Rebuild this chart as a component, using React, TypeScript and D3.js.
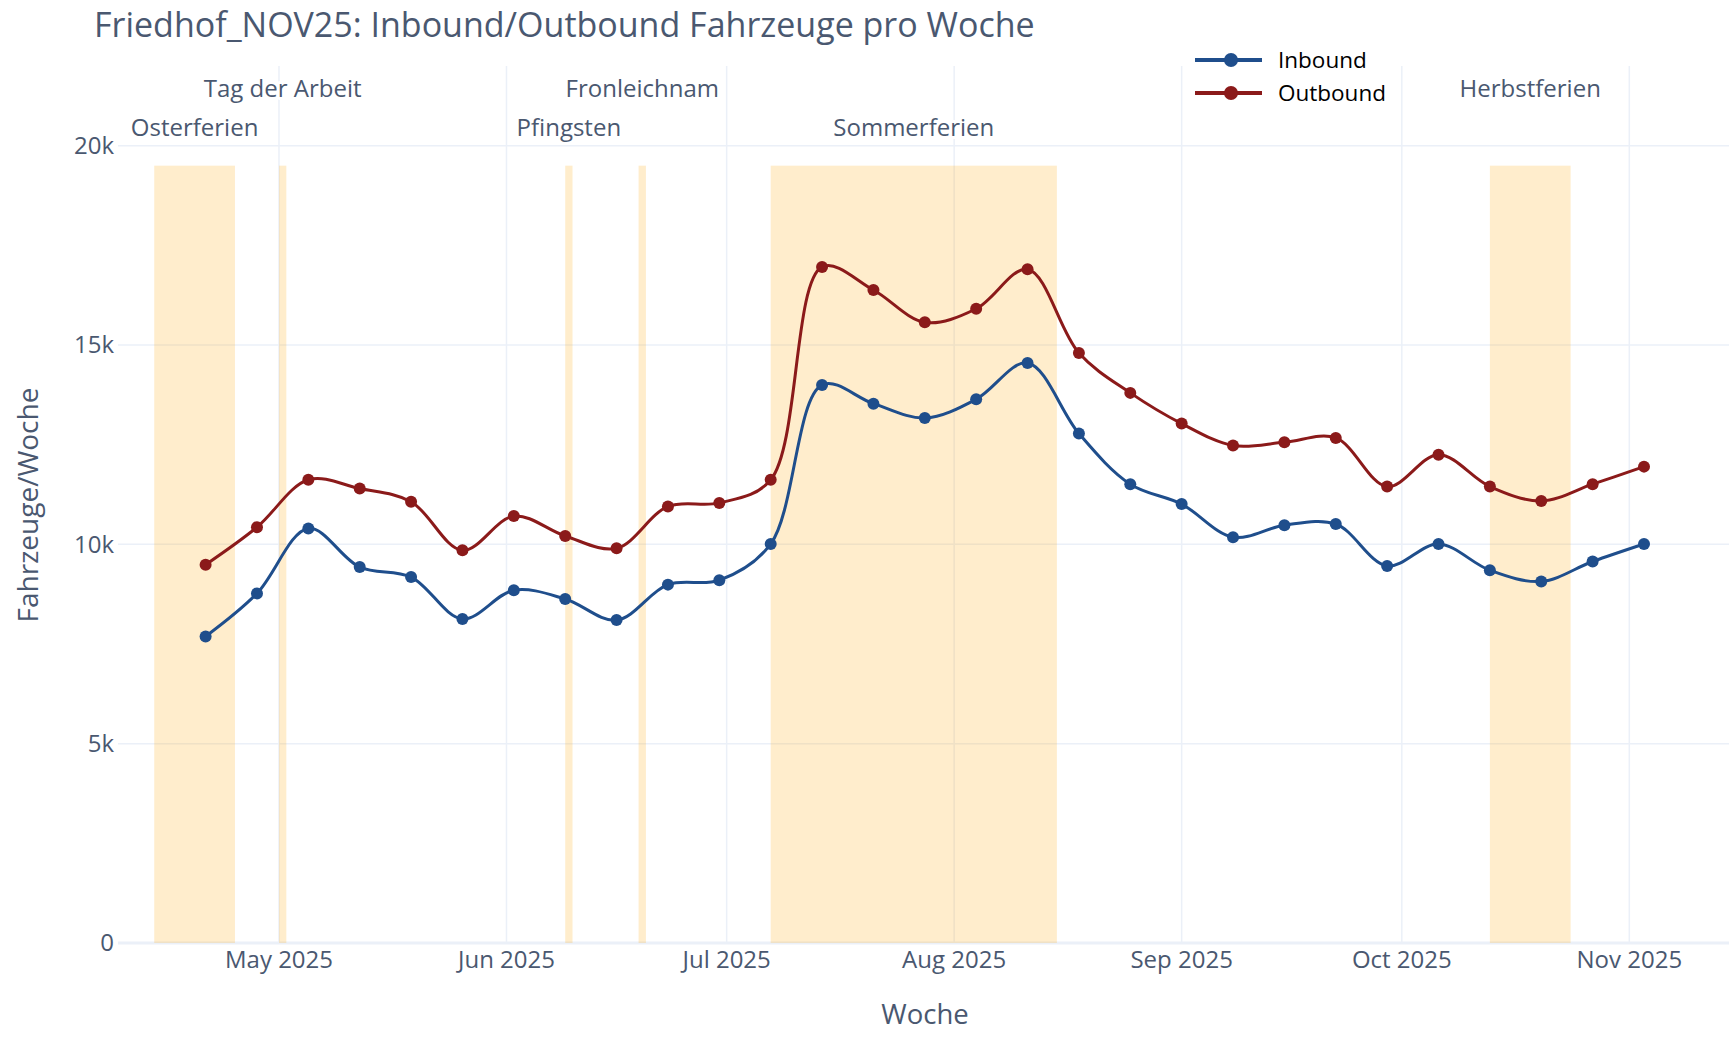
import React, { useEffect } from 'react';
import * as d3 from 'd3';

const width = 1729;
const height = 1037;
const margin = { top: 66, right: 0, bottom: 94, left: 118 };

const title = 'Friedhof_NOV25: Inbound/Outbound Fahrzeuge pro Woche';

// weekly buckets (Mondays)
const weeks = [
  '2025-04-21', '2025-04-28', '2025-05-05', '2025-05-12', '2025-05-19', '2025-05-26',
  '2025-06-02', '2025-06-09', '2025-06-16', '2025-06-23', '2025-06-30', '2025-07-07',
  '2025-07-14', '2025-07-21', '2025-07-28', '2025-08-04', '2025-08-11', '2025-08-18',
  '2025-08-25', '2025-09-01', '2025-09-08', '2025-09-15', '2025-09-22', '2025-09-29',
  '2025-10-06', '2025-10-13', '2025-10-20', '2025-10-27', '2025-11-03',
];

const inbound = [
  7690, 8770, 10400, 9430, 9180, 8130, 8850, 8630, 8100, 8990, 9100, 10010,
  14000, 13530, 13170, 13640, 14550, 12780, 11510, 11010, 10180, 10480, 10510, 9460,
  10010, 9350, 9070, 9570, 10010,
];

const outbound = [
  9490, 10430, 11620, 11400, 11070, 9850, 10710, 10210, 9900, 10950, 11040, 11620,
  16960, 16380, 15570, 15910, 16900, 14800, 13800, 13030, 12480, 12560, 12670, 11450,
  12250, 11450, 11090, 11510, 11950,
];

// Ferien / Feiertage (Rheinland-Pfalz 2025)
const periodNames = ['Osterferien', 'Tag der Arbeit', 'Pfingsten', 'Fronleichnam', 'Sommerferien', 'Herbstferien'];
const periodStart = ['2025-04-14', '2025-05-01', '2025-06-09', '2025-06-19', '2025-07-07', '2025-10-13'];
const periodEnd = ['2025-04-25', '2025-05-02', '2025-06-10', '2025-06-20', '2025-08-15', '2025-10-24'];
const periodRow = [1, 0, 1, 0, 1, 0];

const xRange = ['2025-04-09T01:30', '2025-11-14T14:00'];
const yTicks = [0, 5000, 10000, 15000, 20000];
const yMax = 22000;
const bandTop = 19500;

const series = [
  { name: 'Inbound', values: inbound, color: '#1f4e8c' },
  { name: 'Outbound', values: outbound, color: '#8b1a1a' },
];

const textColor = '#4a5870';
const gridColor = '#ebf0f8';
const font = '"Open Sans", verdana, arial, sans-serif';

export default function App() {
  useEffect(() => {
    document.body.style.margin = '0';
  }, []);

  const x = d3
    .scaleTime()
    .domain(xRange.map((d) => new Date(d)))
    .range([margin.left, width - margin.right]);

  const y = d3
    .scaleLinear()
    .domain([0, yMax])
    .range([height - margin.bottom, margin.top]);

  const dates = weeks.map((d) => new Date(d + 'T00:00'));
  const months = x.ticks(d3.timeMonth.every(1));
  const fmtMonth = d3.timeFormat('%b %Y');
  const fmtY = d3.format('~s');

  const line = d3
    .line<number>()
    .x((_, i) => x(dates[i]))
    .y((d) => y(d))
    .curve(d3.curveCatmullRom);

  const rowY = [89, 128];

  return (
    <svg width={width} height={height} style={{ display: 'block', background: '#fff', fontFamily: font }}>
      {/* grid */}
      {months.map((m) => (
        <line key={m.toISOString()} x1={x(m)} x2={x(m)} y1={margin.top} y2={y(0)} stroke={gridColor} strokeWidth={1.5} />
      ))}
      {yTicks.map((t) => (
        <line key={t} x1={margin.left} x2={width} y1={y(t)} y2={y(t)} stroke={gridColor} strokeWidth={t === 0 ? 3 : 1.5} />
      ))}

      {/* holiday bands */}
      {periodNames.map((n, i) => (
        <rect
          key={n}
          x={x(new Date(periodStart[i] + 'T00:00'))}
          width={x(new Date(periodEnd[i] + 'T00:00')) - x(new Date(periodStart[i] + 'T00:00'))}
          y={y(bandTop)}
          height={y(0) - y(bandTop)}
          fill="rgba(255,165,0,0.2)"
        />
      ))}

      {/* series */}
      {series.map((s) => (
        <g key={s.name}>
          <path d={line(s.values) || ''} fill="none" stroke={s.color} strokeWidth={3} />
          {s.values.map((v, i) => (
            <circle key={i} cx={x(dates[i])} cy={y(v)} r={6} fill={s.color} />
          ))}
        </g>
      ))}

      {/* annotations */}
      {periodNames.map((n, i) => {
        const cx = (x(new Date(periodStart[i] + 'T00:00')) + x(new Date(periodEnd[i] + 'T00:00'))) / 2;
        return (
          <text key={n} x={cx} y={rowY[periodRow[i]]} dy="0.35em" textAnchor="middle" fontSize={24} fill={textColor}
            stroke="#fff" strokeWidth={6} paintOrder="stroke" strokeLinejoin="round">
            {n}
          </text>
        );
      })}

      {/* y axis labels */}
      {yTicks.map((t) => (
        <text key={t} x={margin.left - 4} y={y(t)} dy="0.35em" textAnchor="end" fontSize={24} fill={textColor}>
          {fmtY(t)}
        </text>
      ))}

      {/* x axis labels */}
      {months.map((m) => (
        <text key={m.toISOString()} x={x(m)} y={960} dy="0.35em" textAnchor="middle" fontSize={24} fill={textColor}>
          {fmtMonth(m)}
        </text>
      ))}

      {/* axis titles */}
      <text x={925} y={1014} dy="0.35em" textAnchor="middle" fontSize={27.5} fill={textColor}>
        Woche
      </text>
      <text transform="translate(28,505) rotate(-90)" dy="0.35em" textAnchor="middle" fontSize={28} fill={textColor}>
        Fahrzeuge/Woche
      </text>

      {/* title */}
      <text x={94} y={37} fontSize={34} fill={textColor}>
        {title}
      </text>

      {/* legend */}
      {series.map((s, i) => (
        <g key={s.name} transform={`translate(1195,${60 + i * 33})`}>
          <line x1={0} x2={67} stroke={s.color} strokeWidth={4} />
          <circle cx={36} r={7} fill={s.color} />
          <text x={83} dy="0.35em" fontSize={22.5} fill="#000">
            {s.name}
          </text>
        </g>
      ))}
    </svg>
  );
}
